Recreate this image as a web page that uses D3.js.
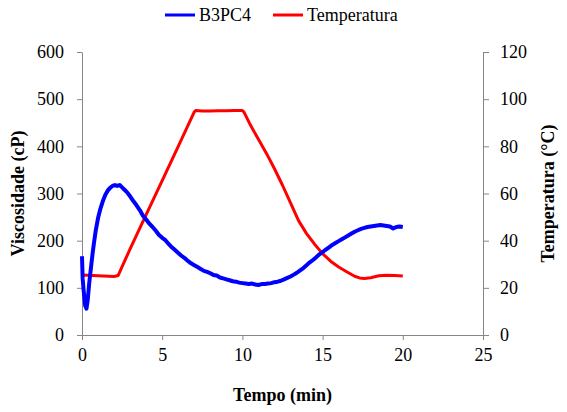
<!DOCTYPE html>
<html>
<head>
<meta charset="utf-8">
<script src="https://cdn.jsdelivr.net/npm/d3@7/dist/d3.min.js"></script>
<style>
  html, body { margin: 0; padding: 0; background: #fff; }
  svg { display: block; }
</style>
</head>
<body>
<svg id="chart" width="567" height="412"></svg>
<script>
// Viscosity (cP) over time (min), sample B3PC4
const viscTime = [0, 0.04, 0.1, 0.2, 0.28, 0.36, 0.45, 0.55, 0.65, 0.75, 0.85, 1.0, 1.15, 1.3, 1.45, 1.6, 1.75, 1.9, 2.05, 2.2, 2.35, 2.5, 2.65, 2.8, 3.0, 3.2, 3.4, 3.6, 3.8, 4.0, 4.2, 4.4, 4.6, 4.8, 5.0, 5.2, 5.4, 5.6, 5.8, 6.0, 6.2, 6.4, 6.6, 6.8, 7.0, 7.2, 7.4, 7.6, 7.8, 8.0, 8.2, 8.4, 8.6, 8.8, 9.0, 9.2, 9.4, 9.6, 9.8, 10.0, 10.2, 10.4, 10.6, 10.8, 11.0, 11.2, 11.4, 11.6, 11.8, 12.0, 12.2, 12.4, 12.6, 12.8, 13.0, 13.2, 13.4, 13.6, 13.8, 14.0, 14.2, 14.4, 14.6, 14.8, 15.0, 15.2, 15.4, 15.6, 15.8, 16.0, 16.2, 16.4, 16.6, 16.8, 17.0, 17.2, 17.4, 17.6, 17.8, 18.0, 18.2, 18.4, 18.6, 18.8, 19.0, 19.2, 19.4, 19.6, 19.8, 20.0];
const viscValues = [167, 120, 95, 62, 56, 75, 110, 140, 170, 196, 220, 248, 268, 284, 297, 306, 312, 316, 318, 316, 318, 313, 308, 303, 294, 284, 275, 265, 253, 245, 236, 229, 221, 212, 206, 201, 193, 186, 180, 174, 168, 163, 157, 152, 148, 144, 140, 136, 134, 131, 127, 126, 122, 120, 118, 116, 114, 113, 111, 110, 109, 108, 109, 107, 106, 108, 108, 109, 110, 112, 113, 115, 118, 121, 124, 128, 132, 137, 142, 148, 154, 159, 165, 171, 176, 181, 186, 191, 195, 199, 203, 207, 211, 215, 219, 222, 225, 227, 229, 230, 231, 232, 233, 232, 231, 230, 226, 229, 230, 229];

// Temperature (°C) over time (min)
const tempTime = [0, 1.0, 2.0, 2.25, 2.5, 3.0, 4.0, 5.0, 6.0, 7.0, 7.1, 7.5, 8.0, 8.5, 9.0, 9.5, 10.0, 10.1, 10.5, 11.0, 11.5, 12.0, 12.5, 13.0, 13.5, 14.0, 14.5, 15.0, 15.5, 16.0, 16.5, 17.0, 17.3, 17.6, 18.0, 18.5, 19.0, 19.5, 20.0];
const tempValues = [25.4, 25.1, 24.8, 25.2, 29, 36.5, 51, 65.5, 80, 94.6, 95.2, 95.0, 95.0, 95.1, 95.1, 95.2, 95.2, 94.5, 89, 83, 77, 70.5, 63.5, 56, 48.5, 43, 38.5, 34.5, 31.3, 28.8, 26.8, 24.9, 24.2, 24.0, 24.3, 25.1, 25.3, 25.2, 25.0];

const xTicks = [0, 5, 10, 15, 20, 25];
const viscTicks = [0, 100, 200, 300, 400, 500, 600];
const tempTicks = [0, 20, 40, 60, 80, 100, 120];

const seriesNames = ["B3PC4", "Temperatura"];
const seriesColors = ["#0000ff", "#ff0000"];

const FONT = "Liberation Serif, Tinos, Times New Roman, Times, Noto Serif, DejaVu Serif";

const margin = { left: 82, right: 84, top: 52, bottom: 77 };
const W = 567, H = 412;
const svg = d3.select("#chart").attr("font-family", FONT);

const x = d3.scaleLinear().domain([0, 25]).range([margin.left, W - margin.right]);
const yL = d3.scaleLinear().domain([0, 600]).range([H - margin.bottom, margin.top]);
const yR = d3.scaleLinear().domain([0, 120]).range([H - margin.bottom, margin.top]);

const axisColor = "#868686";

function styleAxis(g) {
  g.attr("font-family", FONT).attr("font-size", 18);
  g.select(".domain").attr("stroke", axisColor).attr("stroke-width", 1);
  g.selectAll(".tick line").attr("stroke", axisColor);
  g.selectAll(".tick text").attr("fill", "#000");
}

svg.append("g")
  .attr("transform", `translate(0,${H - margin.bottom})`)
  .call(d3.axisBottom(x).tickValues(xTicks).tickSize(5).tickSizeOuter(0).tickPadding(8))
  .call(styleAxis);

svg.append("g")
  .attr("transform", `translate(${margin.left},0)`)
  .call(d3.axisLeft(yL).tickValues(viscTicks).tickSize(5).tickSizeOuter(0).tickPadding(13))
  .call(styleAxis);

svg.append("g")
  .attr("transform", `translate(${W - margin.right},0)`)
  .call(d3.axisRight(yR).tickValues(tempTicks).tickSize(6).tickSizeOuter(0).tickPadding(11))
  .call(styleAxis);

// Temperature line
const tempLine = d3.line().x((d, i) => x(tempTime[i])).y(d => yR(d));
svg.append("path")
  .datum(tempValues)
  .attr("fill", "none")
  .attr("stroke", seriesColors[1])
  .attr("stroke-width", 3)
  .attr("stroke-linejoin", "round")
  .attr("d", tempLine);

// Viscosity line
const viscLine = d3.line().x((d, i) => x(viscTime[i])).y(d => yL(d));
svg.append("path")
  .datum(viscValues)
  .attr("fill", "none")
  .attr("stroke", seriesColors[0])
  .attr("stroke-width", 4)
  .attr("stroke-linejoin", "round")
  .attr("d", viscLine);

// Axis titles
function title(sel) {
  return sel.attr("text-anchor", "middle")
    .attr("font-family", FONT)
    .attr("font-size", 18)
    .attr("font-weight", "bold")
    .attr("fill", "#000");
}

svg.append("text")
  .attr("x", (margin.left + W - margin.right) / 2)
  .attr("y", 401)
  .call(title)
  .text("Tempo (min)");

svg.append("text")
  .attr("transform", `translate(24,${(margin.top + H - margin.bottom) / 2}) rotate(-90)`)
  .call(title)
  .text("Viscosidade (cP)");

svg.append("text")
  .attr("transform", `translate(554,${(margin.top + H - margin.bottom) / 2}) rotate(-90)`)
  .call(title)
  .text("Temperatura (°C)");

// Legend
const legendX = [165, 273];
seriesNames.forEach((name, i) => {
  const g = svg.append("g").attr("transform", `translate(${legendX[i]},15)`);
  g.append("line").attr("x1", 0).attr("x2", 30).attr("y1", 0).attr("y2", 0)
    .attr("stroke", seriesColors[i]).attr("stroke-width", 3);
  g.append("text").attr("x", 34).attr("y", 6)
    .attr("font-family", FONT)
    .attr("font-size", 18)
    .attr("fill", "#000")
    .text(name);
});
</script>
</body>
</html>
